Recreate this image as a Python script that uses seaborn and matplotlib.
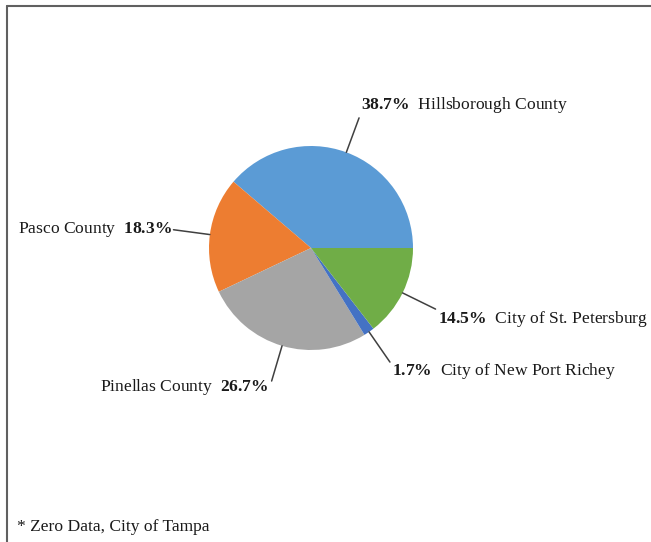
import numpy as np
import seaborn as sns
from matplotlib import pyplot as plt
from matplotlib.lines import Line2D

#%%
labels = ["Hillsborough County", "Pasco County", "Pinellas County",
          "City of New Port Richey", "City of St. Petersburg"]
shares = [38.7, 18.3, 26.7, 1.7, 14.5]
colors = ["#5B9BD5", "#ED7D31", "#A5A5A5", "#4472C4", "#70AD47"]
footnote = "* Zero Data, City of Tampa"

#%%
sns.set_theme(style="white")
plt.rcParams['font.family'] = ['Liberation Serif', 'DejaVu Serif']
plt.rcParams['mathtext.fontset'] = 'custom'
plt.rcParams['mathtext.rm'] = 'Liberation Serif'
plt.rcParams['mathtext.bf'] = 'Liberation Serif:bold'

W, H = 651, 542
fig = plt.figure(figsize=(W / 100, H / 100), dpi=100)
ax = fig.add_axes([0, 0, 1, 1])

cx, cy, r = 311, H - 248, 102
wedges, _ = ax.pie(shares, colors=colors, startangle=0, counterclock=True,
                   center=(cx, cy), radius=r, frame=True,
                   wedgeprops=dict(linewidth=0))
ax.set_xlim(0, W)
ax.set_ylim(0, H)
ax.set_aspect('equal')
ax.axis('off')

# label placement: (text offset from line end, horizontal alignment, percent first?)
layout = [((2, 13), 'left', True),
          ((-2, 0), 'right', False),
          ((-3, -6), 'right', False),
          ((2, -9), 'left', True),
          ((2, -10), 'left', True)]

for w, lab, pct, (off, ha, pct_first) in zip(wedges, labels, shares, layout):
    mid = np.deg2rad((w.theta1 + w.theta2) / 2)
    d = np.array([np.cos(mid), np.sin(mid)])
    p0 = np.array([cx, cy]) + r * d
    p1 = np.array([cx, cy]) + 1.36 * r * d
    ax.plot([p0[0], p1[0]], [p0[1], p1[1]], color="#404040", lw=1.1)
    p = r"$\mathbf{" + f"{pct:.1f}" + r"\%}$"
    txt = f"{p}  {lab}" if pct_first else f"{lab}  {p}"
    ax.text(p1[0] + off[0], p1[1] + off[1], txt, ha=ha, va='center',
            fontsize=12.6, color="#1a1a1a")

fig.text(17 / W, 1 - 527 / H, footnote, ha='left', va='center',
         fontsize=12.6, color="#1a1a1a")

# frame lines (left and top)
fig.add_artist(Line2D([7 / W, 7 / W], [0, 1 - 6 / H], transform=fig.transFigure,
                      color="#606060", lw=1.5))
fig.add_artist(Line2D([7 / W, 1], [1 - 6 / H, 1 - 6 / H], transform=fig.transFigure,
                      color="#606060", lw=1.5))

fig.savefig("out.png", dpi=100)
